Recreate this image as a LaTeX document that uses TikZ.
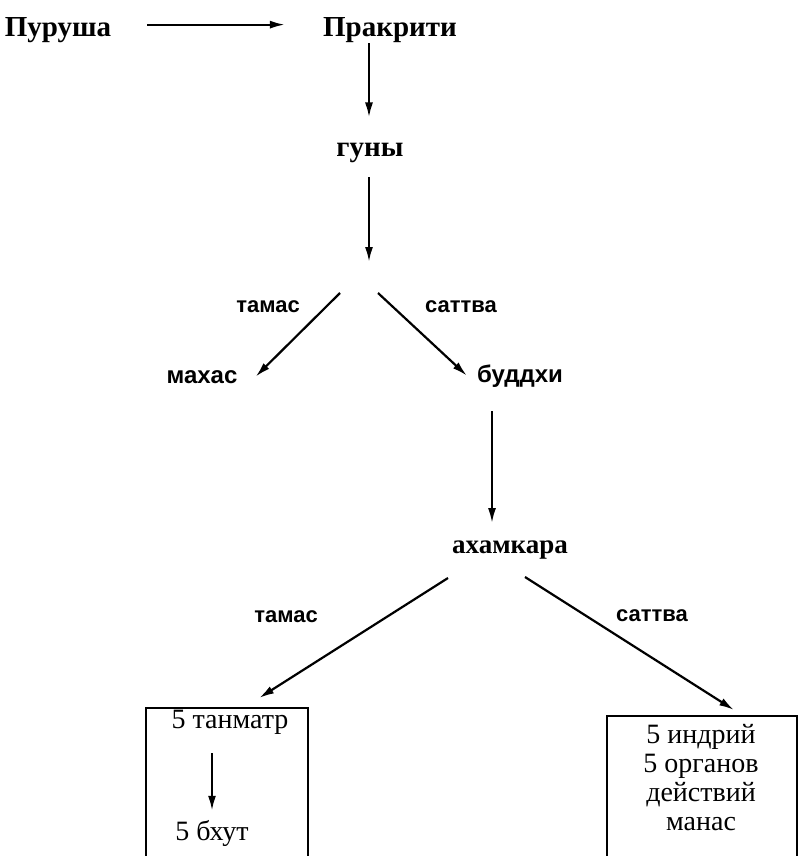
\documentclass[tikz,border=0pt]{standalone}
\usepackage{fontspec}
\setmainfont{Liberation Serif}
\setsansfont{Liberation Sans}
\usetikzlibrary{arrows.meta}
\tikzset{
  big/.style={font=\bfseries\fontsize{29}{33}\selectfont, inner sep=0pt, anchor=base},
  mid/.style={font=\fontsize{28}{29}\selectfont, inner sep=0pt, anchor=base},
  lbl/.style={font=\sffamily\bfseries\fontsize{22}{26}\selectfont, inner sep=0pt, anchor=base},
  sbig/.style={font=\sffamily\bfseries\fontsize{24}{28}\selectfont, inner sep=0pt, anchor=base},
  arr/.style={-{Latex[length=15pt,width=8pt]}, line width=2.2pt},
  frame/.style={draw, line width=2.2pt, anchor=north west, inner sep=0pt}
}
\begin{document}
\begin{tikzpicture}[x=1pt,y=-1pt]
    \clip (0,0) rectangle (798,856);
    \node[big] (purusha) at (58,37) {Пуруша};
    \node[big] (prakriti) at (390,37) {Пракрити};
    \node[big] (guny) at (370,157) {гуны};
    \node[sbig] (mahas) at (202,383) {махас};
    \node[sbig] (buddhi) at (520,382) {буддхи};
    \node[big, font=\bfseries\fontsize{27}{30}\selectfont] (ahamkara) at (510,553) {ахамкара};
    \node[lbl] (tamasA) at (268,312) {тамас};
    \node[lbl] (sattvaA) at (461,312) {саттва};
    \node[lbl] (tamasB) at (286,622) {тамас};
    \node[lbl] (sattvaB) at (652,621) {саттва};
    \node[frame, minimum width=162pt, minimum height=200pt] (leftbox) at (145,707) {};
    \node[frame, minimum width=190pt, minimum height=200pt] (rightbox) at (606,715) {};
    \node[mid] (tanmatr) at (230,728) {5 танматр};
    \node[mid] (bhut) at (212,840) {5 бхут};
    \node[mid, anchor=north, align=center] (indriy) at (701,724) {5 индрий\\5 органов\\действий\\манас};
    \coordinate (fork) at (369,262);
    \coordinate (forkL) at (340,293);
    \coordinate (forkR) at (378,293);
    \coordinate (ahL) at (448,578);
    \coordinate (ahR) at (525,577);
    \draw[arr, shorten <=36pt, shorten >=38pt] ([yshift=6pt]purusha.east) -- ([yshift=6pt]purusha.east -| prakriti.west);
    \draw[arr, shorten >=26pt] (prakriti.south -| fork) -- (guny.north -| fork);
    \draw[arr, shorten <=14pt] (guny.south -| fork) -- (fork);
    \draw[arr] (forkL) -- ([xshift=18pt]mahas.east);
    \draw[arr] (forkR) -- ([xshift=-10pt]buddhi.west);
    \draw[arr, shorten <=24pt, shorten >=17pt] ([xshift=-28pt]buddhi.south) -- ([xshift=-28pt]buddhi.south |- ahamkara.north);
    \draw[arr] (ahL) -- ([xshift=32pt,yshift=9pt]leftbox.north);
    \draw[arr] (ahR) -- ([xshift=32pt,yshift=5pt]rightbox.north);
    \draw[arr, shorten <=19pt, shorten >=9pt] (tanmatr.south -| bhut.north) -- (bhut.north);
\end{tikzpicture}
\end{document}
